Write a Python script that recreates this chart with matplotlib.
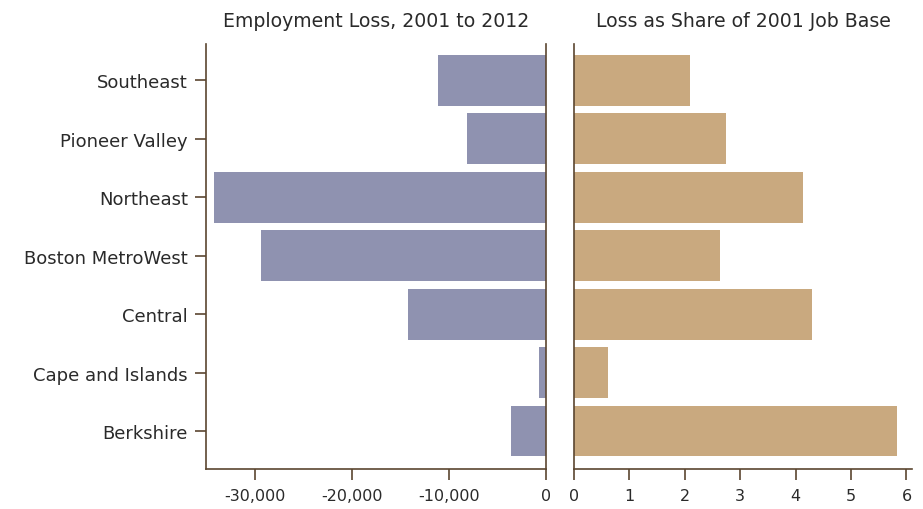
import matplotlib
matplotlib.use("Agg")
from matplotlib import pyplot as plt
from matplotlib.ticker import FuncFormatter

regions = ["Berkshire", "Cape and Islands", "Central", "Boston MetroWest",
           "Northeast", "Pioneer Valley", "Southeast"]
job_loss = [-3600, -700, -14200, -29300, -34200, -8100, -11100]
loss_share = [5.82, 0.61, 4.30, 2.63, 4.13, 2.74, 2.09]

spine_col = "#5b4630"
text_col = "#2a2a2a"
plt.rcParams['font.family'] = ['DejaVu Sans']

fig = plt.figure(figsize=(9.23, 5.10), dpi=100)
ax1 = fig.add_axes([0.2232, 0.0784, 0.3683, 0.8334])
ax2 = fig.add_axes([0.6219, 0.0784, 0.3662, 0.8334])

y = range(len(regions))
ax1.barh(y, job_loss, height=0.87, color="#8f92b0")
ax2.barh(y, loss_share, height=0.87, color="#c9a97f")

ax1.set_xlim(-35000, 0)
ax2.set_xlim(0, 6.1)
for ax in (ax1, ax2):
    ax.set_ylim(-0.65, 6.62)
    ax.spines['top'].set_visible(False)
    for s in ax.spines.values():
        s.set_color(spine_col)
        s.set_linewidth(1.2)
    ax.tick_params(colors=spine_col, labelcolor=text_col, labelsize=11.5,
                   length=8, width=1.2, direction='out')

ax1.set_xticks([-30000, -20000, -10000, 0])
ax1.xaxis.set_major_formatter(FuncFormatter(lambda v, p: f"{int(v):,}"))
ax1.set_yticks(list(y))
ax1.set_yticklabels(regions, fontsize=13)
ax1.tick_params(axis='y', pad=5)
ax1.tick_params(axis='x', pad=6)

ax2.spines['right'].set_visible(False)
ax2.set_xticks(range(7))
ax2.set_yticks([])
ax2.tick_params(axis='x', pad=6)

ax1.set_title("Employment Loss, 2001 to 2012", fontsize=13.6, color=text_col, pad=13)
ax2.set_title("Loss as Share of 2001 Job Base", fontsize=13.6, color=text_col, pad=13)

plt.savefig("out.png", dpi=100)
